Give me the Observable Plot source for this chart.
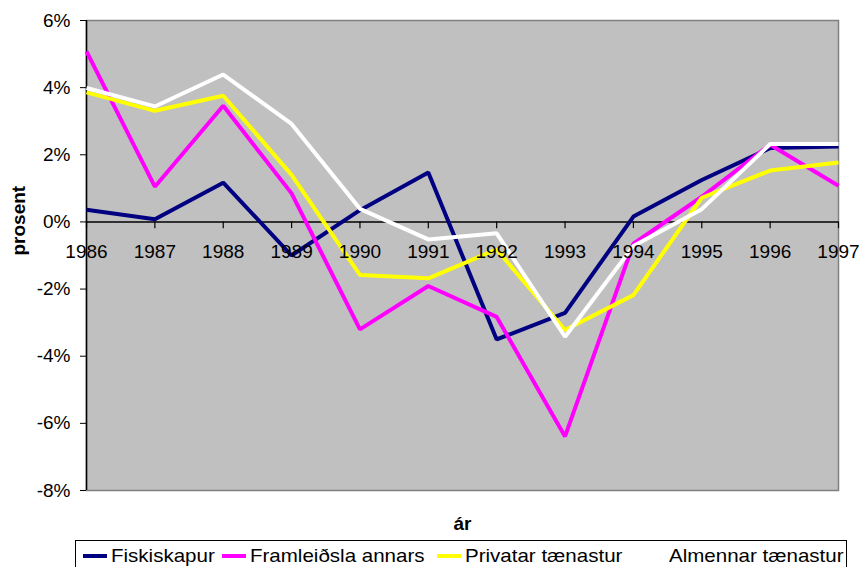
<!DOCTYPE html>
<html>
<head>
<meta charset="utf-8">
<script src="https://cdn.jsdelivr.net/npm/d3@7"></script>
<script src="https://cdn.jsdelivr.net/npm/@observablehq/plot@0.6"></script>
<style>
  html, body { margin: 0; padding: 0; background: #fff; overflow: hidden; }
  body { width: 861px; height: 567px; font-family: "Liberation Sans", Arial, sans-serif; }
  #legend { position: absolute; left: 75px; top: 540px; width: 772px; height: 40px; border: 1px solid #000; box-sizing: border-box; font-size: 19px; color: #000; }
  .item { position: absolute; top: 4px; display: flex; align-items: center; white-space: nowrap; }
  .sw { width: 24px; height: 4px; margin-right: 4px; }
  .lbl { display: inline-block; transform: scaleX(1.08); transform-origin: left center; }
</style>
</head>
<body>
<div id="chart"></div>
<div id="legend"></div>
<script>
const years = [1986, 1987, 1988, 1989, 1990, 1991, 1992, 1993, 1994, 1995, 1996, 1997];
const seriesNames = ["Fiskiskapur", "Framleiðsla annars", "Privatar tænastur", "Almennar tænastur"];
const seriesColors = ["#000080", "#FF00FF", "#FFFF00", "#FFFFFF"];
const fiskiskapur = [0.36, 0.08, 1.17, -1.0, 0.35, 1.47, -3.50, -2.71, 0.16, 1.25, 2.20, 2.25];
const framleidsla = [5.08, 1.05, 3.46, 0.85, -3.20, -1.91, -2.83, -6.39, -0.65, 0.75, 2.30, 1.08];
const privatar = [3.86, 3.31, 3.76, 1.40, -1.58, -1.68, -0.82, -3.22, -2.18, 0.72, 1.53, 1.77];
const almennar = [3.99, 3.44, 4.39, 2.92, 0.39, -0.52, -0.34, -3.42, -0.72, 0.38, 2.32, 2.32];
const yTicks = [-8, -6, -4, -2, 0, 2, 4, 6];
const xTitle = "ár";
const yTitle = "prosent";

const seriesValues = [fiskiskapur, framleidsla, privatar, almennar];
const data = [];
seriesNames.forEach((name, i) => {
  years.forEach((yr, j) => data.push({ series: name, year: yr, value: seriesValues[i][j] }));
});

const FS = 19;
const chart = Plot.plot({
  width: 861,
  height: 536,
  marginLeft: 86,
  marginRight: 23,
  marginTop: 20,
  marginBottom: 46,
  style: { fontFamily: "'Liberation Sans', Arial, sans-serif", fontSize: FS + "px", color: "#000", background: "#fff" },
  x: { type: "linear", domain: [1986, 1997], axis: null },
  y: { domain: [-8, 6], axis: null },
  color: { domain: seriesNames, range: seriesColors },
  marks: [
    Plot.frame({ fill: "#C0C0C0", stroke: "#808080", strokeWidth: 1.5 }),
    Plot.axisY({ ticks: yTicks, tickFormat: d => d + "%", tickSize: 6, tickPadding: 10, stroke: "#000", label: null, fontSize: FS }),
    Plot.ruleX([1986], { stroke: "#000", strokeWidth: 1.5 }),
    Plot.ruleY([0], { stroke: "#000", strokeWidth: 1.5 }),
    Plot.ruleX(years, { x: d => d, y1: 0, y2: -0.2, stroke: "#000", strokeWidth: 1.2 }),
    Plot.line(data, { x: "year", y: "value", z: "series", stroke: "series", strokeWidth: 4, strokeLinejoin: "miter", strokeLinecap: "butt" }),
    Plot.text(years, { x: d => d, y: 0, dy: 30, text: d => String(d), fill: "#000", fontSize: FS }),
    Plot.text([xTitle], { frameAnchor: "bottom", dy: 33, lineAnchor: "middle", text: d => d, fontWeight: "bold", fontSize: FS, fill: "#000" }),
    Plot.text([yTitle], { frameAnchor: "left", dx: -68, rotate: -90, text: d => d, fontWeight: "bold", fontSize: FS, fill: "#000" })
  ]
});
document.getElementById("chart").appendChild(chart);

const legendLeft = [7, 146, 361, 565];
const legend = document.getElementById("legend");
seriesNames.forEach((name, i) => {
  const item = document.createElement("div");
  item.className = "item";
  item.style.left = legendLeft[i] + "px";
  const sw = document.createElement("span");
  sw.className = "sw";
  sw.style.background = seriesColors[i];
  const label = document.createElement("span");
  label.className = "lbl";
  label.textContent = name;
  item.appendChild(sw);
  item.appendChild(label);
  legend.appendChild(item);
});
</script>
</body>
</html>
